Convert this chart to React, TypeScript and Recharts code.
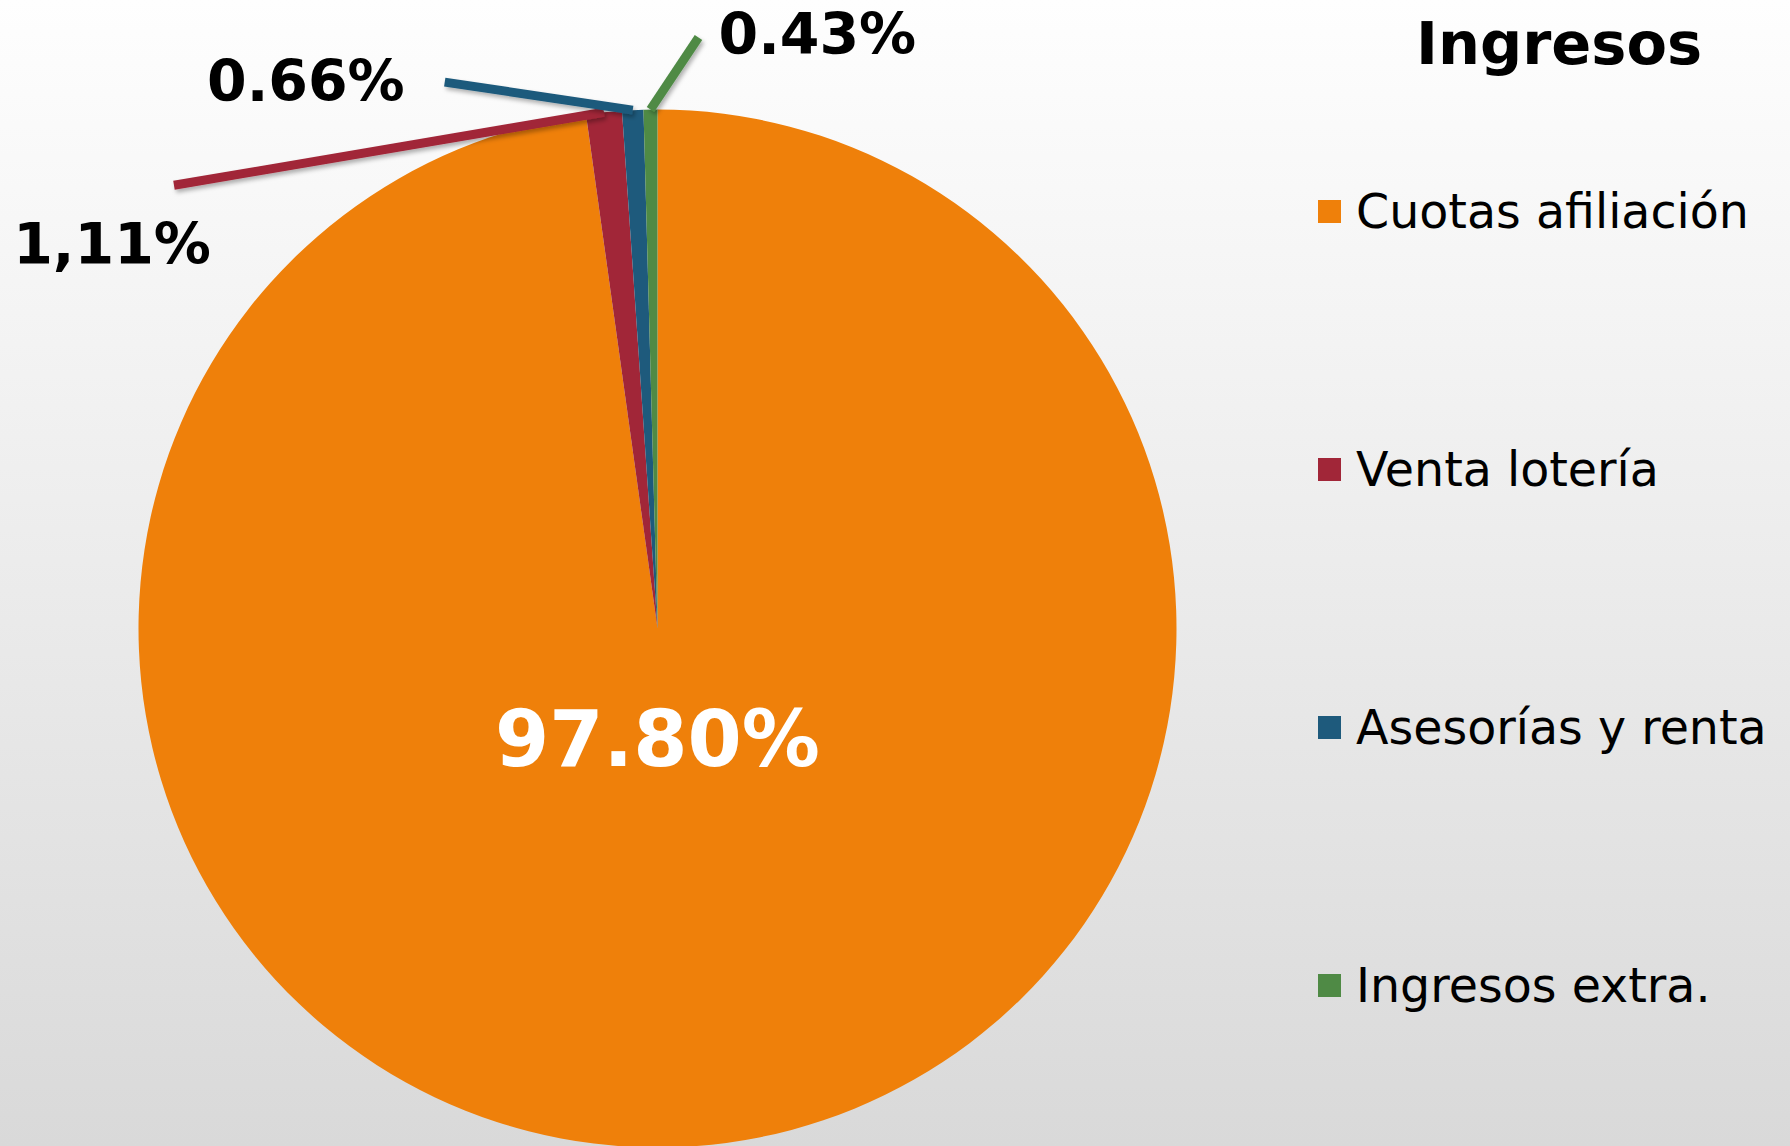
import { PieChart, Pie, Cell, Legend } from "recharts";

// Ingresos share per concept (percent)
const categories = ["Cuotas afiliación", "Venta lotería", "Asesorías y renta", "Ingresos extra."];
const values = [97.8, 1.11, 0.66, 0.43];
const labels = ["97.80%", "1,11%", "0.66%", "0.43%"];
const colors = ["#EF800A", "#A12638", "#1E5A7C", "#4F8A45"];

const data = categories.map((name, i) => ({ name, value: values[i], label: labels[i] }));

// leader line direction/length and text placement for the small slices
const leaders: Record<number, { dx: number; dy: number; tx: number; ty: number; anchor: string }> = {
  1: { dx: -430, dy: 73, tx: 37, ty: 79, anchor: "end" },
  2: { dx: -188, dy: -28, tx: -40, ty: 19, anchor: "end" },
  3: { dx: 48, dy: -72, tx: 20, ty: 16, anchor: "start" },
};

const RAD = Math.PI / 180;
const FONT = "'DejaVu Sans', Verdana, sans-serif";

const renderLabel = (props: any) => {
  const { cx, cy, midAngle, outerRadius, index } = props;
  if (index === 0) {
    return (
      <text
        x={cx}
        y={cy + 137}
        fill="#ffffff"
        textAnchor="middle"
        fontFamily={FONT}
        fontWeight="bold"
        fontSize={78}
      >
        {labels[index]}
      </text>
    );
  }
  const cfg = leaders[index];
  const sx = cx + outerRadius * Math.cos(-midAngle * RAD);
  const sy = cy + outerRadius * Math.sin(-midAngle * RAD);
  const ex = sx + cfg.dx;
  const ey = sy + cfg.dy;
  return (
    <g>
      <defs>
        <filter id={`shadow-${index}`} x="-20%" y="-50%" width="140%" height="200%">
          <feDropShadow dx="2" dy="3" stdDeviation="2" floodColor="#000" floodOpacity="0.3" />
        </filter>
      </defs>
      <line
        x1={sx}
        y1={sy}
        x2={ex}
        y2={ey}
        stroke={colors[index]}
        strokeWidth={9}
        filter={`url(#shadow-${index})`}
      />
      <text
        x={ex + cfg.tx}
        y={ey + cfg.ty}
        fill="#000000"
        textAnchor={cfg.anchor as any}
        fontFamily={FONT}
        fontWeight="bold"
        fontSize={57}
      >
        {labels[index]}
      </text>
    </g>
  );
};

const renderLegend = () => (
  <div style={{ position: "relative", width: 490, height: 1146, fontFamily: FONT }}>
    <div
      style={{
        position: "absolute",
        left: 116,
        top: 8,
        fontSize: 59,
        fontWeight: "bold",
        color: "#000",
        lineHeight: "72px",
      }}
    >
      Ingresos
    </div>
    {categories.map((name, i) => (
      <div
        key={name}
        style={{
          position: "absolute",
          left: 18,
          top: 211 + i * 258 - 30,
          height: 60,
          display: "flex",
          alignItems: "center",
          whiteSpace: "nowrap",
        }}
      >
        <span style={{ width: 23, height: 23, background: colors[i], display: "inline-block", marginRight: 15 }} />
        <span style={{ fontSize: 47.5, color: "#000" }}>{name}</span>
      </div>
    ))}
  </div>
);

export default function App() {
  return (
    <div
      style={{
        position: "absolute",
        left: 0,
        top: 0,
        width: 1790,
        height: 1146,
        overflow: "hidden",
        background: "linear-gradient(to bottom, #fefefe 0%, #f3f3f3 30%, #d9d9d9 100%)",
      }}
    >
      <PieChart width={1790} height={1146} margin={{ top: 0, right: 0, bottom: 0, left: 0 }}>
        <Pie
          data={data}
          dataKey="value"
          nameKey="name"
          cx={657.5}
          cy={628.5}
          outerRadius={519}
          startAngle={90}
          endAngle={-270}
          stroke="none"
          label={renderLabel}
          labelLine={false}
          isAnimationActive={false}
        >
          {data.map((d, i) => (
            <Cell key={d.name} fill={colors[i]} />
          ))}
        </Pie>
        <Legend
          content={renderLegend}
          layout="vertical"
          verticalAlign="top"
          align="right"
          wrapperStyle={{ position: "absolute", left: 1300, top: 0, width: 490, height: 1146 }}
        />
      </PieChart>
    </div>
  );
}
